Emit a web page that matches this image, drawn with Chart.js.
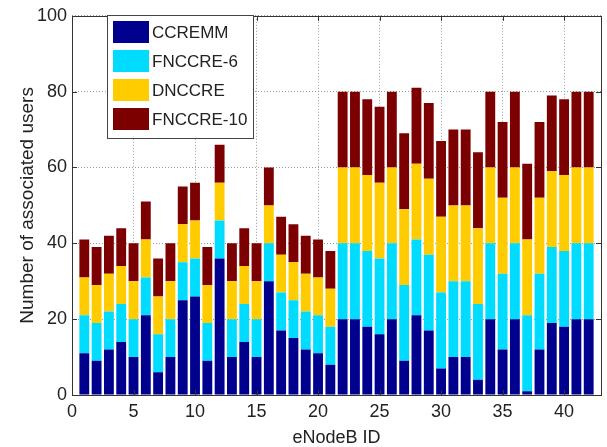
<!doctype html>
<html lang="en">
<head>
<meta charset="utf-8">
<title>Associated users per eNodeB</title>
<script src="https://cdn.jsdelivr.net/npm/chart.js"></script>
<style>
  html, body { margin: 0; padding: 0; background: #fff; }
  #wrap { width: 607px; height: 447px; }
</style>
</head>
<body>
<div id="wrap"><canvas id="usersChart" width="607" height="447"></canvas></div>
<script>
// eNodeB ids 1..42
const enodebIds = [1,2,3,4,5,6,7,8,9,10,11,12,13,14,15,16,17,18,19,20,21,
                   22,23,24,25,26,27,28,29,30,31,32,33,34,35,36,37,38,39,40,41,42];

// users per scheme (stacked segments)
const ccremm   = [11,9,12,14,10,21,6,10,25,26,9,36,10,14,10,30,17,15,12,11,8,
                  20,20,18,16,20,9,21,17,7,10,10,4,20,12,20,1,12,19,18,20,20];
const fnccre6  = [10,10,10,10,10,10,10,10,10,10,10,10,10,10,10,10,10,10,10,10,10,
                  20,20,20,20,20,20,20,20,20,20,20,20,20,20,20,20,20,20,20,20,20];
const dnccre   = [10,10,10,10,10,10,10,10,10,10,10,10,10,10,10,10,10,10,10,10,10,
                  20,20,20,20,20,20,20,20,20,20,20,20,20,20,20,20,20,20,20,20,20];
const fnccre10 = [10,10,10,10,10,10,10,10,10,10,10,10,10,10,10,10,10,10,10,10,10,
                  20,20,20,20,20,20,20,20,20,20,20,20,20,20,20,20,20,20,20,20,20];

const seriesNames = ['CCREMM', 'FNCCRE-6', 'DNCCRE', 'FNCCRE-10'];
const xTicks = [0, 5, 10, 15, 20, 25, 30, 35, 40];
const yTicks = [0, 20, 40, 60, 80, 100];

const colors = ['#00008f', '#00dcff', '#ffcc00', '#7d0000'];
const FONT = "'Liberation Sans', Arial, sans-serif";

function toPoints(vals) {
  return vals.map((v, i) => ({ x: enodebIds[i], y: v }));
}

// frame + inward ticks, matlab style
const framePlugin = {
  id: 'frame',
  afterDraw(chart) {
    const { ctx, chartArea: a, scales } = chart;
    ctx.save();
    ctx.strokeStyle = '#333';
    ctx.lineWidth = 1;
    ctx.beginPath();
    xTicks.forEach(t => {
      const px = Math.round(scales.x.getPixelForValue(t)) + 0.5;
      ctx.moveTo(px, a.bottom); ctx.lineTo(px, a.bottom - 5);
      ctx.moveTo(px, a.top); ctx.lineTo(px, a.top + 5);
    });
    yTicks.forEach(t => {
      const py = Math.round(scales.y.getPixelForValue(t)) + 0.5;
      ctx.moveTo(a.left, py); ctx.lineTo(a.left + 5, py);
      ctx.moveTo(a.right, py); ctx.lineTo(a.right - 5, py);
    });
    ctx.stroke();
    ctx.strokeRect(Math.round(a.left) + 0.5, Math.round(a.top) + 0.5,
                   Math.round(a.right - a.left), Math.round(a.bottom - a.top));
    ctx.restore();
  }
};

// boxed legend inside the plot, top left
const boxLegend = {
  id: 'boxLegend',
  afterDraw(chart) {
    const ctx = chart.ctx;
    const x0 = 107, y0 = 15, w = 146, h = 123;
    ctx.save();
    ctx.fillStyle = '#fff';
    ctx.fillRect(x0, y0, w, h);
    ctx.strokeStyle = '#444';
    ctx.lineWidth = 1;
    ctx.strokeRect(x0 + 0.5, y0 + 0.5, w, h);
    ctx.font = "17px 'Liberation Sans', Arial, sans-serif";
    ctx.textBaseline = 'middle';
    chart.data.datasets.forEach((ds, i) => {
      const yy = y0 + 6 + i * 29;
      ctx.fillStyle = ds.backgroundColor;
      ctx.fillRect(x0 + 6, yy, 36, 22);
      ctx.fillStyle = '#222';
      ctx.fillText(ds.label, x0 + 45, yy + 12);
    });
    ctx.restore();
  }
};

const ctx = document.getElementById('usersChart').getContext('2d');
const usersChart = new Chart(ctx, {
  type: 'bar',
  data: {
    datasets: [ccremm, fnccre6, dnccre, fnccre10].map((vals, i) => ({
      label: seriesNames[i],
      data: toPoints(vals),
      backgroundColor: colors[i],
      borderWidth: 0,
      barPercentage: 0.8,
      categoryPercentage: 1.0
    }))
  },
  options: {
    responsive: false,
    animation: false,
    layout: { padding: { top: 12, right: 6, left: 0, bottom: 0 } },
    plugins: {
      legend: { display: false },
      tooltip: { enabled: false }
    },
    scales: {
      x: {
        type: 'linear',
        stacked: true,
        offset: false,
        min: 0,
        max: 43,
        afterBuildTicks: s => { s.ticks = xTicks.map(v => ({ value: v })); },
        afterFit: s => { s.height = 52; },
        grid: { color: '#9a9a9a', lineWidth: 1, drawTicks: false, tickLength: 0, offset: false },
        border: { display: false, dash: [1, 2] },
        ticks: { color: '#222', font: { family: FONT, size: 18 }, padding: 6, maxRotation: 0 },
        title: {
          display: true, text: 'eNodeB ID', color: '#222',
          font: { family: FONT, size: 18, lineHeight: 1 },
          padding: { top: 0, bottom: 0 }
        }
      },
      y: {
        stacked: true,
        min: 0,
        max: 100,
        afterBuildTicks: s => { s.ticks = yTicks.map(v => ({ value: v })); },
        afterFit: s => { s.width = 72; },
        grid: { color: '#9a9a9a', lineWidth: 1, drawTicks: false, tickLength: 0 },
        border: { display: false, dash: [1, 2] },
        ticks: { color: '#222', font: { family: FONT, size: 18 }, padding: 5 },
        title: {
          display: true, text: 'Number of associated users', color: '#222',
          font: { family: FONT, size: 19, lineHeight: 1 },
          padding: { top: 18, bottom: 0 }
        }
      }
    }
  },
  plugins: [framePlugin, boxLegend]
});
</script>
</body>
</html>
